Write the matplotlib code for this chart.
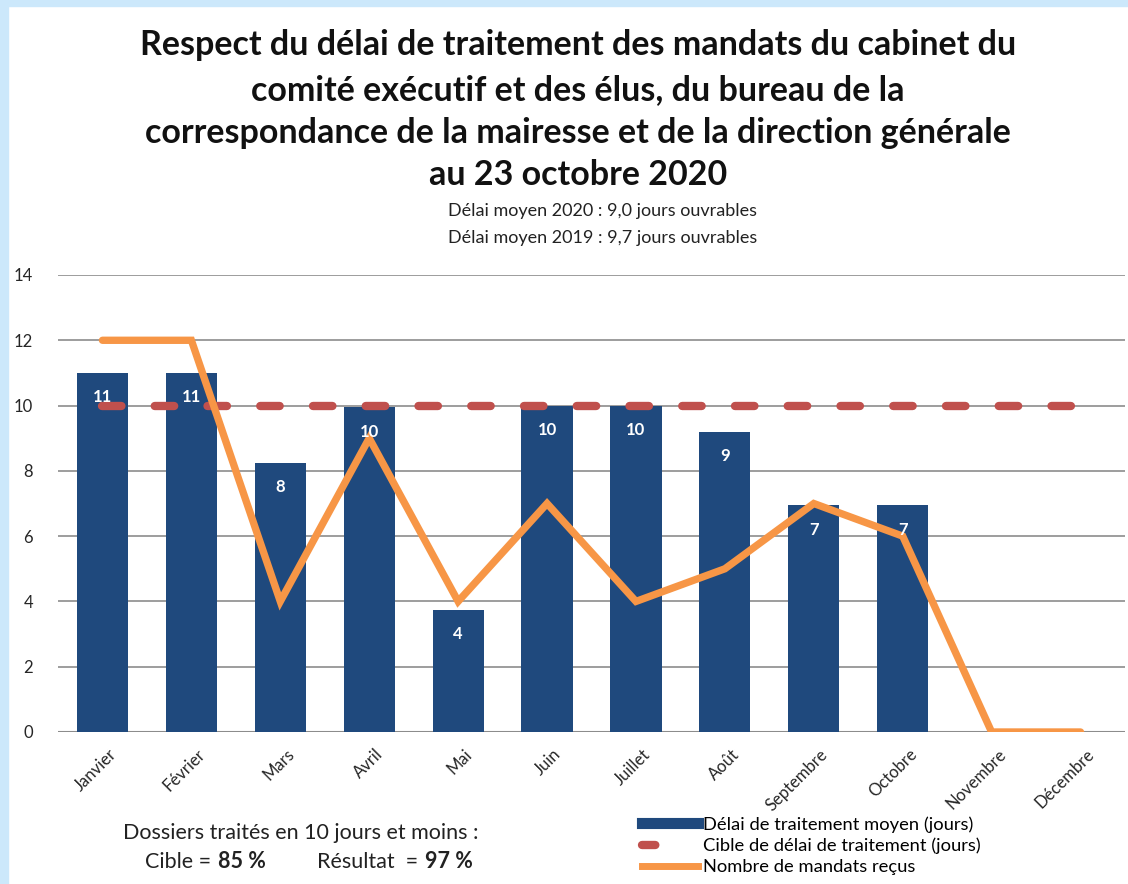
import matplotlib
matplotlib.use("Agg")
import matplotlib.pyplot as plt
from matplotlib.lines import Line2D
import matplotlib.transforms as mtransforms
import numpy as np

months = ["Janvier", "Février", "Mars", "Avril", "Mai", "Juin", "Juillet",
          "Août", "Septembre", "Octobre", "Novembre", "Décembre"]
delai_moyen = [11.0, 11.0, 8.25, 9.95, 3.75, 10.0, 10.0, 9.2, 6.95, 6.95, 0, 0]
delai_labels = ["11", "11", "8", "10", "4", "10", "10", "9", "7", "7", "", ""]
cible = [10] * 12
mandats = [12, 12, 4, 9, 4, 7, 4, 5, 7, 6, 0, 0]
yticks = [0, 2, 4, 6, 8, 10, 12, 14]

BLUE = "#1f497d"
RED = "#c0504d"
ORANGE = "#f79646"
FONT = ["Lato", "DejaVu Sans"]
plt.rcParams["font.family"] = FONT

W, H = 1128, 884
fig = plt.figure(figsize=(W / 100, H / 100), dpi=100)
fig.patch.set_facecolor("white")
fig.add_artist(plt.Rectangle((0, 0), 8 / W, 1, transform=fig.transFigure,
                             color="#cce8fb", zorder=0))
fig.add_artist(plt.Rectangle((0, 1 - 6 / H), 1, 6 / H, transform=fig.transFigure,
                             color="#cce8fb", zorder=0))

ax = fig.add_axes([58 / W, 1 - 732 / H, (1125 - 58) / W, (732 - 275) / H])
x = np.arange(len(months))
ax.set_xlim(-0.5, 11.5)
ax.set_ylim(0, 14)
ax.set_yticks(yticks)
ax.grid(axis="y", color="#8c8c8c", linewidth=1.2, zorder=0)
ax.set_axisbelow(True)
for s in ax.spines.values():
    s.set_visible(False)
ax.axhline(0, color="#8c8c8c", linewidth=1.5, zorder=1)

ax.bar(x, delai_moyen, width=0.575, color=BLUE, zorder=2)
for xi, v, lab in zip(x, delai_moyen, delai_labels):
    if lab:
        ax.text(xi, v - 0.75, lab, ha="center", va="center", color="white",
                fontsize=12, fontweight="bold", zorder=5)

ax.plot(x, cible, color=RED, linewidth=6, linestyle=(0, (2.33, 4.0)),
        dash_capstyle="round", zorder=3)
ax.plot(x, mandats, color=ORANGE, linewidth=5.3, solid_capstyle="round",
        solid_joinstyle="miter", zorder=4)

ax.tick_params(axis="both", length=0, labelsize=12, colors="#262626")
ax.tick_params(axis="y", pad=18)
ax.set_xticks(x)
ax.set_xticklabels(months, rotation=45, ha="right", rotation_mode="anchor")
ax.tick_params(axis="x", pad=10)
off = mtransforms.ScaledTranslation(6 / 100, 0, fig.dpi_scale_trans)
for lbl in ax.get_xticklabels():
    lbl.set_transform(lbl.get_transform() + off)

# Titles
title_lines = ["Respect du délai de traitement des mandats du cabinet du",
               "comité exécutif et des élus, du bureau de la",
               "correspondance de la mairesse et de la direction générale",
               "au 23 octobre 2020"]
for line, yy in zip(title_lines, [45, 90, 133, 175]):
    fig.text(578 / W, 1 - yy / H, line, ha="center", va="center",
             fontsize=24.5, fontweight="bold", color="#111111")
fig.text(603 / W, 1 - 211 / H, "Délai moyen 2020 : 9,0 jours ouvrables",
         ha="center", va="center", fontsize=13, color="#222222")
fig.text(603 / W, 1 - 238 / H, "Délai moyen 2019 : 9,7 jours ouvrables",
         ha="center", va="center", fontsize=13, color="#222222")

# bottom note
fig.text(301 / W, 1 - 833 / H, "Dossiers traités en 10 jours et moins :",
         ha="center", va="center", fontsize=15.5, color="#222222")
pieces = [("Cible = ", "normal", 145), ("85 %", "bold", 218),
          ("Résultat  = ", "normal", 317), ("97 %", "bold", 425)]
for txt, wt, px in pieces:
    fig.text(px / W, 1 - 862 / H, txt, ha="left", va="center",
             fontsize=15.5, color="#222222", fontweight=wt)

handles = [Line2D([0], [0], color=BLUE, linewidth=8),
           Line2D([0], [0], color=RED, linewidth=6, linestyle=(0, (1.6, 20)),
                  dash_capstyle="round"),
           Line2D([0], [0], color=ORANGE, linewidth=5)]
labels = ["Délai de traitement moyen (jours)",
          "Cible de délai de traitement (jours)",
          "Nombre de mandats reçus"]
fig.legend(handles, labels, loc="upper left",
           bbox_to_anchor=(642 / W, 1 - 816 / H), frameon=False,
           fontsize=13.2, handlelength=3.05, handletextpad=0.3,
           labelspacing=0.28, borderpad=0, borderaxespad=0)

fig.savefig("out.png", dpi=100)
